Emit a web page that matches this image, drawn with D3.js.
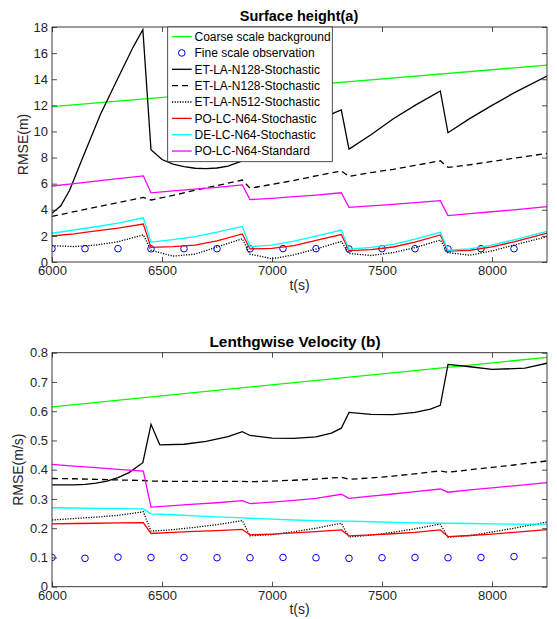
<!DOCTYPE html>
<html>
<head>
<meta charset="utf-8">
<script src="https://cdn.jsdelivr.net/npm/d3@7"></script>
<style>
body { margin: 0; background: #fff; }
text { font-family: "Liberation Sans", Arial, sans-serif; fill: #262626; }
</style>
</head>
<body>
<svg></svg>
<script>
"use strict";

// time grid shared by most curves (s)
var tGrid = [6000, 6100, 6200, 6300, 6415, 6450, 6550, 6650, 6750, 6865, 6900, 7000, 7100, 7200,
    7315, 7350, 7450, 7550, 7650, 7765, 7800, 7900, 8000, 8100, 8250];
var tEnds = [6000, 8250];
var tObs = [6000, 6150, 6300, 6450, 6600, 6750, 6900, 7050, 7200, 7350, 7500, 7650, 7800, 7950, 8100];
var tTicks = [6000, 6500, 7000, 7500, 8000];

// surface height RMSE (m)
var hTicks = [0, 2, 4, 6, 8, 10, 12, 14, 16, 18];
var hCoarse = [11.9, 15.08];
var hObs = [1.02, 1.02, 1.02, 1.01, 1.02, 1.02, 1.01, 1.03, 1.02, 1.0, 1.02, 1.02, 1.0, 1.02, 1.02];
var hEtN128T = [6000, 6040, 6080, 6140, 6220, 6300, 6370, 6413, 6450, 6500, 6550, 6600, 6650, 6700,
    6750, 6800, 6865, 6900, 7000, 7100, 7200, 7280, 7315, 7350, 7450, 7550, 7650, 7765, 7800,
    7900, 8000, 8100, 8250];
var hEtN128 = [3.73, 4.3, 5.5, 8.0, 11.3, 14.1, 16.5, 17.8, 8.6, 7.85, 7.5, 7.3, 7.18, 7.15,
    7.2, 7.35, 7.75, 7.95, 8.75, 9.6, 10.5, 11.4, 11.65, 8.65, 9.75, 10.95, 12.0, 13.1, 9.9,
    11.0, 12.0, 12.95, 14.25];
var hEtN128b = [3.5, 3.85, 4.2, 4.55, 4.95, 4.75, 5.1, 5.5, 5.85, 6.28, 5.65, 5.95, 6.25, 6.6,
    6.97, 6.55, 6.85, 7.1, 7.4, 7.75, 7.25, 7.45, 7.7, 7.95, 8.32];
var hEtN512 = [1.25, 1.18, 1.3, 1.55, 2.08, 0.9, 0.45, 0.6, 1.15, 1.78, 0.6, 0.25, 0.55, 1.0,
    1.57, 0.65, 0.5, 0.72, 1.1, 1.68, 0.72, 0.52, 0.85, 1.3, 1.94];
var hPoN64 = [1.99, 2.15, 2.38, 2.6, 2.91, 1.12, 1.17, 1.3, 1.62, 2.15, 1.0, 1.05, 1.25, 1.65,
    2.1, 0.87, 0.95, 1.15, 1.52, 2.07, 0.84, 0.9, 1.15, 1.55, 2.22];
var hDeN64 = [2.2, 2.45, 2.7, 2.98, 3.38, 1.52, 1.72, 1.95, 2.28, 2.72, 1.17, 1.3, 1.6, 1.98,
    2.45, 0.98, 1.12, 1.35, 1.75, 2.27, 0.9, 1.0, 1.3, 1.7, 2.35];
var hPoStd = [5.82, 6.0, 6.2, 6.38, 6.6, 5.3, 5.45, 5.58, 5.72, 5.9, 4.78, 4.88, 5.0, 5.12,
    5.3, 4.19, 4.3, 4.42, 4.55, 4.7, 3.55, 3.7, 3.85, 4.0, 4.24];

// lengthwise velocity RMSE (m/s)
var uTicks = [0, 0.1, 0.2, 0.3, 0.4, 0.5, 0.6, 0.7, 0.8];
var uCoarse = [0.615, 0.784];
var uObs = [0.1, 0.097, 0.101, 0.1, 0.1, 0.099, 0.099, 0.1, 0.099, 0.097, 0.099, 0.1, 0.099, 0.1, 0.103];
var uEtN128T = [6000, 6100, 6150, 6200, 6250, 6300, 6350, 6413, 6450, 6490, 6600, 6700, 6800, 6865,
    6900, 7000, 7100, 7200, 7270, 7315, 7350, 7450, 7550, 7650, 7720, 7765, 7800, 7900, 8000,
    8150, 8250];
var uEtN128 = [0.348, 0.348, 0.35, 0.354, 0.361, 0.373, 0.39, 0.424, 0.555, 0.485, 0.487, 0.497,
    0.513, 0.53, 0.517, 0.508, 0.507, 0.512, 0.525, 0.542, 0.596, 0.589, 0.588, 0.596, 0.607,
    0.62, 0.76, 0.752, 0.743, 0.747, 0.764];
var uEtN128b = [0.37, 0.369, 0.367, 0.365, 0.363, 0.361, 0.36, 0.36, 0.36, 0.36, 0.359, 0.361,
    0.364, 0.368, 0.374, 0.367, 0.372, 0.378, 0.386, 0.396, 0.391, 0.4, 0.408, 0.416, 0.43];
var uEtN512 = [0.228, 0.233, 0.238, 0.244, 0.256, 0.19, 0.195, 0.203, 0.212, 0.226, 0.174, 0.178,
    0.188, 0.2, 0.217, 0.17, 0.176, 0.186, 0.198, 0.214, 0.169, 0.175, 0.187, 0.2, 0.221];
var uPoN64 = [0.215, 0.216, 0.217, 0.218, 0.219, 0.182, 0.186, 0.189, 0.192, 0.196, 0.177, 0.18,
    0.184, 0.188, 0.194, 0.174, 0.177, 0.181, 0.186, 0.194, 0.171, 0.175, 0.18, 0.186, 0.195];
var uDeN64 = [0.27, 0.269, 0.268, 0.267, 0.266, 0.249, 0.246, 0.242, 0.239, 0.235, 0.234, 0.231,
    0.228, 0.226, 0.224, 0.224, 0.222, 0.22, 0.218, 0.217, 0.217, 0.216, 0.215, 0.214, 0.214];
var uPoStd = [0.418, 0.412, 0.407, 0.401, 0.395, 0.272, 0.277, 0.282, 0.287, 0.294, 0.284, 0.289,
    0.295, 0.302, 0.316, 0.302, 0.31, 0.317, 0.325, 0.334, 0.323, 0.331, 0.338, 0.345, 0.356];

var names = ["Coarse scale background", "Fine scale observation", "ET-LA-N128-Stochastic",
    "ET-LA-N128-Stochastic", "ET-LA-N512-Stochastic", "PO-LC-N64-Stochastic",
    "DE-LC-N64-Stochastic", "PO-LC-N64-Standard"];

var width = 557,
    height = 619,
    left = 52,
    right = 547,
    ink = "#262626";

var svg = d3.select("svg")
    .attr("width", width)
    .attr("height", height);

var x = d3.scaleLinear().domain([6000, 8250]).range([left, right]);

function styles() {
    return [
        { color: "#00ff00", dash: null },
        { color: "#0000ff", marker: true },
        { color: "#000000", dash: null },
        { color: "#000000", dash: "6,4" },
        { color: "#000000", dash: "1.2,1.4" },
        { color: "#ff0000", dash: null },
        { color: "#00ffff", dash: null },
        { color: "#ff00ff", dash: null }
    ];
}

function drawPanel(id, top, bottom, yMax, yTicks, title, titleSize, titleX, ylab, ylabX, lines, tObsV, obsV) {
    var y = d3.scaleLinear().domain([0, yMax]).range([bottom, top]);
    var g = svg.append("g");

    g.append("clipPath").attr("id", "clip" + id)
        .append("rect")
        .attr("x", left).attr("y", top)
        .attr("width", right - left).attr("height", bottom - top);

    var plot = g.append("g").attr("clip-path", "url(#clip" + id + ")");
    var st = styles();
    var line = d3.line()
        .x(function (d) { return x(d[0]); })
        .y(function (d) { return y(d[1]); });

    lines.forEach(function (s, i) {
        if (st[i].marker) {
            plot.selectAll("circle.obs").data(d3.zip(tObsV, obsV)).enter()
                .append("circle")
                .attr("class", "obs")
                .attr("cx", function (d) { return x(d[0]); })
                .attr("cy", function (d) { return y(d[1]); })
                .attr("r", 3.3)
                .attr("fill", "none")
                .attr("stroke", st[i].color)
                .attr("stroke-width", 1);
            return;
        }
        plot.append("path")
            .datum(d3.zip(s[0], s[1]))
            .attr("d", line)
            .attr("fill", "none")
            .attr("stroke", st[i].color)
            .attr("stroke-width", 1.3)
            .attr("stroke-dasharray", st[i].dash);
    });

    // axes with inward ticks, MATLAB style box
    var fmt = d3.format("~g");
    g.append("g").attr("transform", "translate(0," + bottom + ")")
        .call(d3.axisBottom(x).tickValues(tTicks).tickSize(-5).tickPadding(4).tickFormat(fmt));
    g.append("g").attr("transform", "translate(0," + top + ")")
        .call(d3.axisTop(x).tickValues(tTicks).tickSize(-5).tickFormat(""));
    g.append("g").attr("transform", "translate(" + left + ",0)")
        .call(d3.axisLeft(y).tickValues(yTicks).tickSize(-5).tickPadding(4).tickFormat(fmt));
    g.append("g").attr("transform", "translate(" + right + ",0)")
        .call(d3.axisRight(y).tickValues(yTicks).tickSize(-5).tickFormat(""));

    g.selectAll(".domain").remove();
    g.selectAll(".tick line").attr("stroke", ink).attr("stroke-width", 0.8);
    g.selectAll(".tick text").attr("font-size", 13).attr("fill", ink)
        .style("font-family", "'Liberation Sans', Arial, sans-serif");

    g.append("rect")
        .attr("x", left).attr("y", top)
        .attr("width", right - left).attr("height", bottom - top)
        .attr("fill", "none").attr("stroke", ink).attr("stroke-width", 0.9);

    g.append("text")
        .attr("x", titleX).attr("y", top - 6)
        .attr("text-anchor", "middle")
        .attr("font-size", titleSize).attr("font-weight", "bold")
        .style("fill", "#000")
        .text(title);

    g.append("text")
        .attr("x", (left + right) / 2).attr("y", bottom + 27.5)
        .attr("text-anchor", "middle")
        .attr("font-size", 14)
        .text("t(s)");

    g.append("text")
        .attr("transform", "translate(" + ylabX + "," + ((top + bottom) / 2) + ") rotate(-90)")
        .attr("text-anchor", "middle")
        .attr("font-size", 14)
        .text(ylab);
}

drawPanel("a", 27, 262, 18, hTicks, "Surface height(a)", 14.5, 299, "RMSE(m)", 28, [
    [tEnds, hCoarse], null, [hEtN128T, hEtN128], [tGrid, hEtN128b], [tGrid, hEtN512],
    [tGrid, hPoN64], [tGrid, hDeN64], [tGrid, hPoStd]
], tObs, hObs);

drawPanel("b", 352.7, 586.7, 0.8, uTicks, "Lenthgwise Velocity (b)", 15.4, 295, "RMSE(m/s)", 23, [
    [tEnds, uCoarse], null, [uEtN128T, uEtN128], [tGrid, uEtN128b], [tGrid, uEtN512],
    [tGrid, uPoN64], [tGrid, uDeN64], [tGrid, uPoStd]
], tObs, uObs);

// legend (top panel only)
var leg = svg.append("g");
var st = styles();
leg.append("rect")
    .attr("x", 167.7).attr("y", 27)
    .attr("width", 164.6).attr("height", 134.7)
    .attr("fill", "#fff").attr("stroke", ink).attr("stroke-width", 0.8);

names.forEach(function (n, i) {
    var yy = 36.6 + i * 16.35;
    if (st[i].marker) {
        leg.append("circle")
            .attr("cx", 181.8).attr("cy", yy).attr("r", 3.3)
            .attr("fill", "none").attr("stroke", st[i].color).attr("stroke-width", 1);
    } else {
        leg.append("line")
            .attr("x1", 172).attr("x2", 191.7).attr("y1", yy).attr("y2", yy)
            .attr("stroke", st[i].color).attr("stroke-width", 1.3)
            .attr("stroke-dasharray", st[i].dash);
    }
    leg.append("text")
        .attr("x", 194.5).attr("y", yy)
        .attr("dy", "0.35em")
        .attr("font-size", 12)
        .style("fill", "#000")
        .text(n);
});
</script>
</body>
</html>
